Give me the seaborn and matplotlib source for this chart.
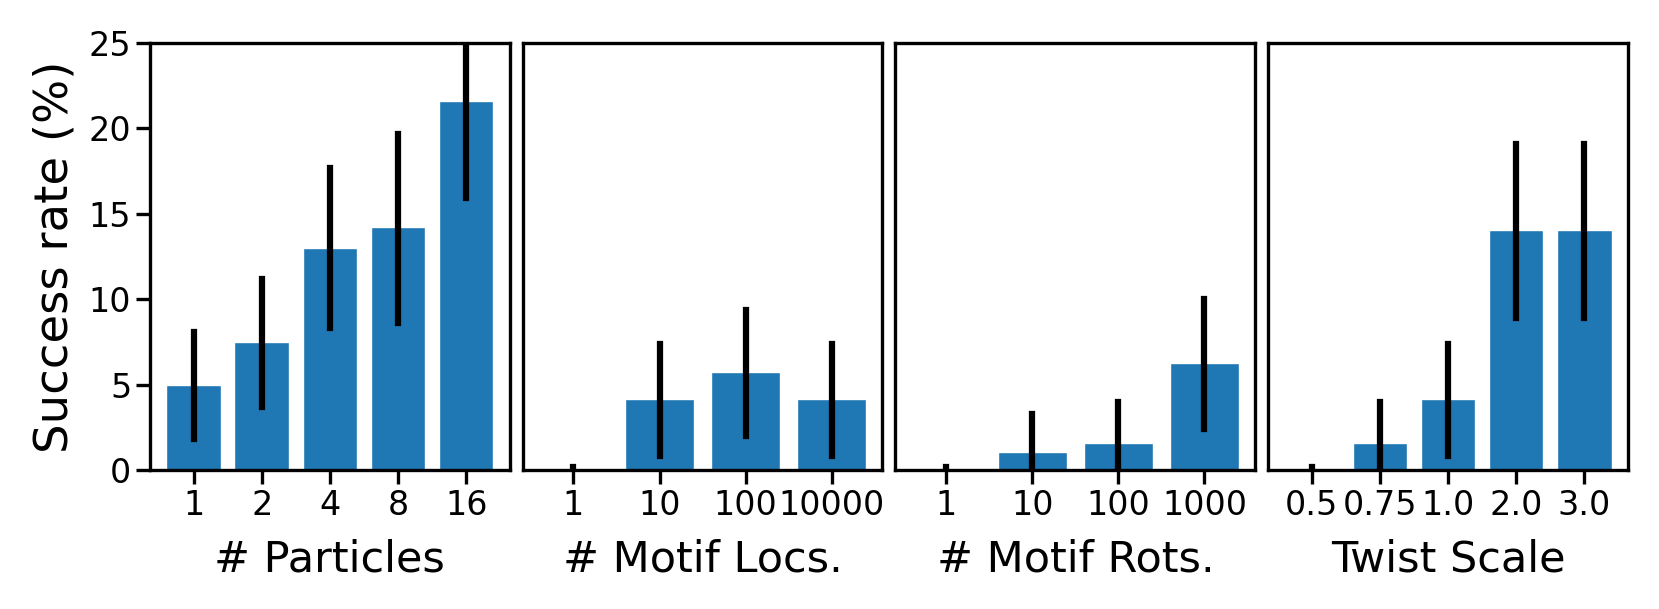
import matplotlib
matplotlib.use("Agg")
import matplotlib.pyplot as plt
import seaborn as sns
import pandas as pd

# Success rates (%) with lower / upper bounds of the error bars
particles = ["1", "2", "4", "8", "16"]
particles_rate = [5.0, 7.5, 13.0, 14.2, 21.6]
particles_lo = [1.8, 3.7, 8.3, 8.6, 15.9]
particles_hi = [8.1, 11.2, 17.7, 19.7, 27.5]

motif_locs = ["1", "10", "100", "10000"]
motif_locs_rate = [0.0, 4.17, 5.73, 4.17]
motif_locs_lo = [0.0, 0.8, 2.0, 0.8]
motif_locs_hi = [0.15, 7.4, 9.35, 7.4]

motif_rots = ["1", "10", "100", "1000"]
motif_rots_rate = [0.0, 1.04, 1.56, 6.25]
motif_rots_lo = [0.0, 0.0, 0.0, 2.4]
motif_rots_hi = [0.15, 3.3, 4.0, 10.0]

twist = ["0.5", "0.75", "1.0", "2.0", "3.0"]
twist_rate = [0.0, 1.56, 4.17, 14.06, 14.06]
twist_lo = [0.0, 0.0, 0.8, 8.9, 8.9]
twist_hi = [0.15, 4.0, 7.4, 19.1, 19.1]

panels = [
    ("# Particles", particles, particles_rate, particles_lo, particles_hi),
    ("# Motif Locs.", motif_locs, motif_locs_rate, motif_locs_lo, motif_locs_hi),
    ("# Motif Rots.", motif_rots, motif_rots_rate, motif_rots_lo, motif_rots_hi),
    ("Twist Scale", twist, twist_rate, twist_lo, twist_hi),
]

sns.set_theme(style="ticks")
plt.rcParams.update({
    "font.family": ["DejaVu Sans"],
    "axes.linewidth": 2.4,
    "axes.edgecolor": "black",
    "xtick.major.size": 10,
    "ytick.major.size": 10,
    "xtick.major.width": 2.4,
    "ytick.major.width": 2.4,
    "xtick.labelsize": 24,
    "ytick.labelsize": 24,
    "axes.labelsize": 31,
    "xtick.color": "black",
    "ytick.color": "black",
    "text.color": "black",
    "axes.labelcolor": "black",
})

fig, axes = plt.subplots(1, 4, figsize=(16.59, 6.09), dpi=100, sharey=True)
fig.subplots_adjust(left=0.0904, right=0.9813, top=0.9294, bottom=0.2282, wspace=0.036)

for i, (ax, (label, cats, rate, lo, hi)) in enumerate(zip(axes, panels)):
    df = pd.DataFrame({"setting": cats, "rate": rate})
    sns.barplot(data=df, x="setting", y="rate", order=cats, color="#1f77b4",
                saturation=1, width=0.8, errorbar=None, ax=ax)
    # error bars drawn from the read-off bounds
    for j in range(len(cats)):
        ax.plot([j, j], [lo[j], hi[j]], color="black", lw=4.5,
                solid_capstyle="projecting", zorder=3)
    n = len(cats)
    pad = 0.05 * (n - 1 + 0.8)
    ax.set_xlim(-0.4 - pad, n - 1 + 0.4 + pad)
    ax.set_ylim(0, 25)
    ax.set_yticks([0, 5, 10, 15, 20, 25])
    ax.set_xlabel(label, labelpad=12)
    if i == 0:
        ax.set_ylabel("Success rate (%)", fontsize=33.5, labelpad=8)
    else:
        ax.set_ylabel("")
        ax.tick_params(axis="y", left=False)
    for side in ["top", "right", "left", "bottom"]:
        ax.spines[side].set_visible(True)

fig.savefig("out.png", dpi=100)
